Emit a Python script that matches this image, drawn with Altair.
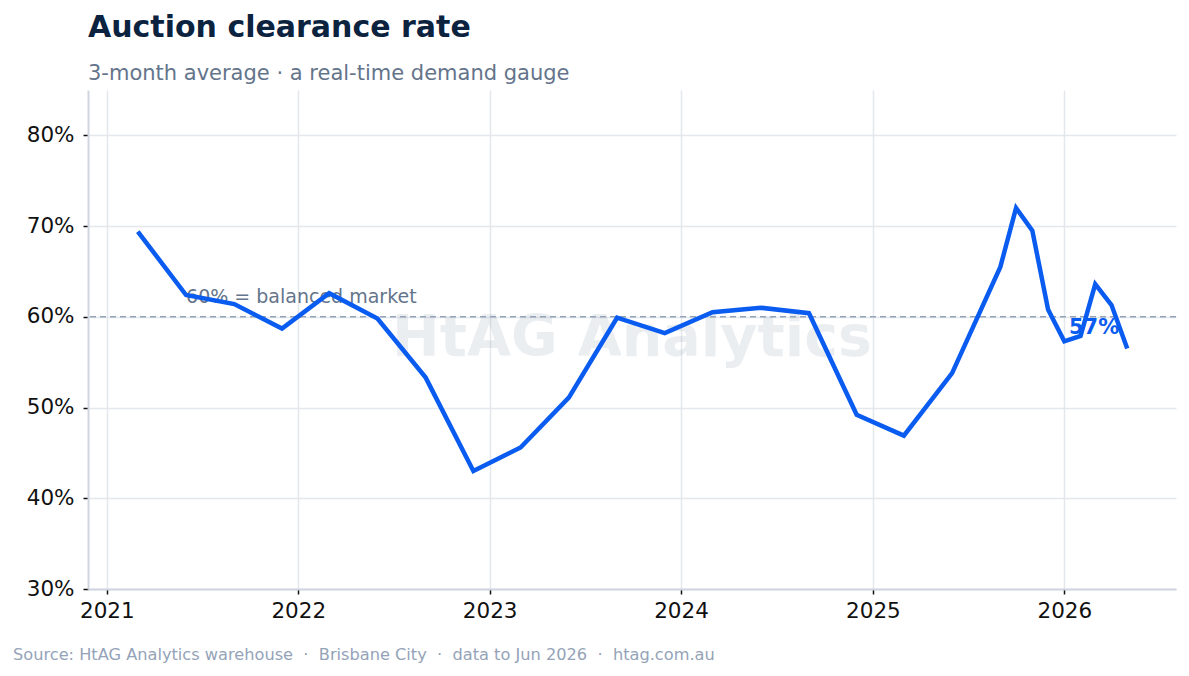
import altair as alt
import pandas as pd

dates = [
    "2021-03-01", "2021-06-01", "2021-09-01", "2021-12-01",
    "2022-03-01", "2022-06-01", "2022-09-01", "2022-12-01",
    "2023-03-01", "2023-06-01", "2023-09-01", "2023-12-01",
    "2024-03-01", "2024-06-01", "2024-09-01", "2024-12-01",
    "2025-03-01", "2025-06-01", "2025-09-01", "2025-10-01",
    "2025-11-01", "2025-12-01", "2026-01-01", "2026-02-01",
    "2026-03-01", "2026-04-01", "2026-05-01",
]
rates = [
    69.4, 62.4, 61.4, 58.7, 62.6, 59.8, 53.3, 43.0,
    45.6, 51.1, 59.9, 58.2, 60.5, 61.0, 60.4, 49.2,
    46.9, 53.8, 65.5, 72.0, 69.5, 60.8, 57.3, 57.9,
    63.6, 61.3, 56.5,
]
threshold = [60]
threshold_label = ["60% = balanced market"]
label_date = ["2021-06-01"]
end_label = ["57%"]
x_domain = ["2020-11-26", "2026-08-02"]
y_ticks = [30, 40, 50, 60, 70, 80]

FONT = "DejaVu Sans"
W, H = 1088, 499
SP = "\u00a0\u00a0"

df = pd.DataFrame({"date": pd.to_datetime(dates), "rate": rates})

x_scale = alt.Scale(domain=[pd.Timestamp(d) for d in x_domain])
y_scale = alt.Scale(domain=[30, 85], nice=False)

x_enc = alt.X(
    "date:T", scale=x_scale, title=None,
    axis=alt.Axis(format="%Y", tickCount={"interval": "year", "step": 1},
                  labelFontSize=21.5, labelPadding=6, tickSize=5,
                  grid=True),
)
y_enc = alt.Y(
    "rate:Q", scale=y_scale, title=None,
    axis=alt.Axis(values=y_ticks, labelExpr="datum.value + '%'",
                  labelFontSize=21.5, labelPadding=9, tickSize=5, grid=True),
)

watermark = alt.Chart(pd.DataFrame({"t": ["HtAG Analytics"]})).mark_text(
    font=FONT, fontSize=57, fontWeight="bold", color="#94a3b8", opacity=0.18,
    align="center", baseline="middle",
).encode(x=alt.value(W / 2), y=alt.value(249), text="t:N")

rule = alt.Chart(pd.DataFrame({"y": threshold})).mark_rule(
    color="#94a3b8", strokeDash=[6, 4], strokeWidth=1.5,
).encode(y=alt.Y("y:Q", scale=y_scale))

rule_text = alt.Chart(pd.DataFrame({
    "date": pd.to_datetime(label_date), "y": threshold, "t": threshold_label,
})).mark_text(
    font=FONT, fontSize=19, color="#64748b", align="left",
    baseline="middle", dy=-20,
).encode(x=alt.X("date:T", scale=x_scale), y=alt.Y("y:Q", scale=y_scale),
         text="t:N")

line = alt.Chart(df).mark_line(
    color="#0a5cf0", strokeWidth=4.5, strokeJoin="miter", strokeCap="butt",
).encode(x=x_enc, y=y_enc)

last = df.tail(1).assign(t=end_label)
end_text = alt.Chart(last).mark_text(
    font=FONT, fontSize=21, fontWeight="bold", color="#0a5cf0",
    align="right", baseline="middle", dx=-8, dy=-21,
).encode(x=alt.X("date:T", scale=x_scale), y=alt.Y("rate:Q", scale=y_scale),
         text="t:N")

footer = alt.Chart(pd.DataFrame({"t": [
    f"Source: HtAG Analytics warehouse{SP}\u00b7{SP}Brisbane City{SP}\u00b7{SP}data to Jun 2026{SP}\u00b7{SP}htag.com.au"
]})).mark_text(
    font=FONT, fontSize=16.2, color="#94a3b8", align="left", baseline="middle",
).encode(x=alt.value(-75), y=alt.value(66 + H), text="t:N")

chart = alt.layer(watermark, rule, rule_text, line, end_text, footer).properties(
    width=W, height=H,
    background="white",
    autosize=alt.AutoSizeParams(type="none"),
    padding={"left": 88, "top": 90, "right": 13, "bottom": 87},
    title=alt.TitleParams(
        text="Auction clearance rate",
        subtitle="3-month average \u00b7 a real-time demand gauge",
        anchor="start", frame="group", font=FONT, subtitleFont=FONT,
        fontSize=30, fontWeight="bold", color="#0c2340",
        subtitleFontSize=21, subtitleColor="#64748b",
        subtitlePadding=20, offset=6,
    ),
).configure_view(stroke=None, strokeWidth=0).configure_axis(
    labelFont=FONT, labelColor="#111111", tickColor="#111111", tickWidth=1.5,
    domainColor="#cfd6e0", domainWidth=2, gridColor="#e4e7eb", gridWidth=1.5,
)

chart.save("out.html", embed_options={"renderer": "svg", "actions": False})
